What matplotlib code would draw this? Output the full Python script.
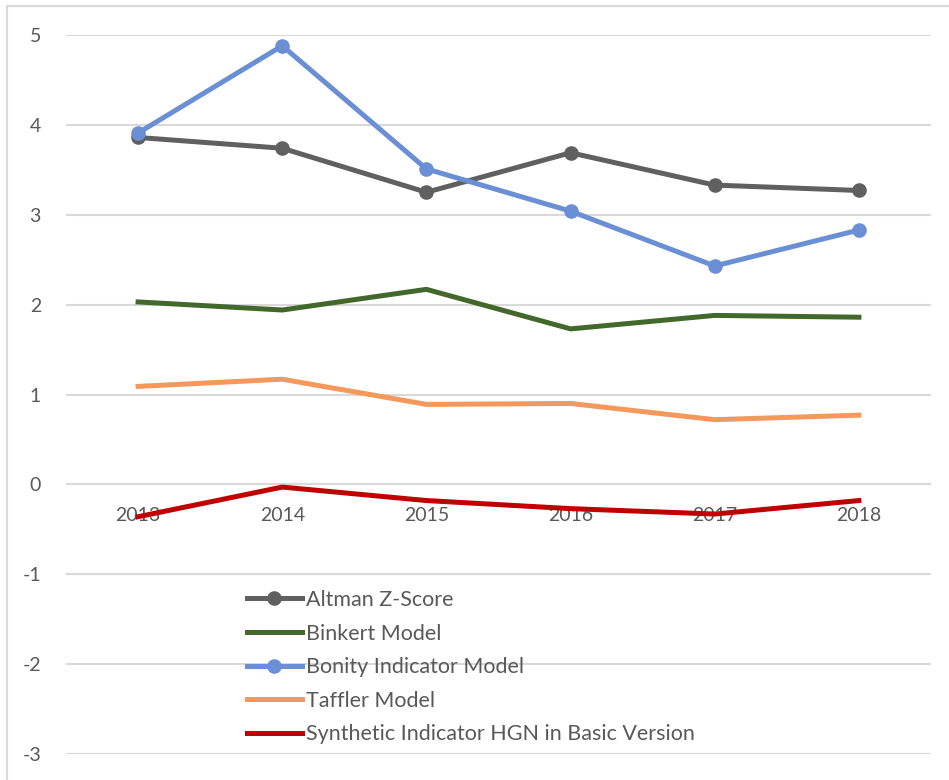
import numpy as np
import matplotlib.pyplot as plt
from matplotlib.patches import Rectangle

plt.rcParams['font.family'] = ['Lato', 'DejaVu Sans']
plt.rcParams['axes.unicode_minus'] = False

years = ['2013', '2014', '2015', '2016', '2017', '2018']
altman = [3.86, 3.74, 3.25, 3.69, 3.33, 3.27]
binkert = [2.03, 1.94, 2.17, 1.73, 1.88, 1.86]
bonity = [3.91, 4.88, 3.51, 3.04, 2.43, 2.83]
taffler = [1.09, 1.17, 0.89, 0.90, 0.72, 0.77]
synthetic = [-0.36, -0.03, -0.18, -0.27, -0.33, -0.18]

W, H = 949, 780
fig = plt.figure(figsize=(W / 100, H / 100), dpi=100)
ax = fig.add_axes([66 / W, (H - 754) / H, (931 - 66) / W, (754 - 35) / H])

# chart border (only left/top visible in the crop)
fig.patches.append(Rectangle((6.5 / W, -0.1), 1.2, (H - 6.5) / H + 0.1,
                             transform=fig.transFigure, fill=False,
                             edgecolor='#D9D9D9', linewidth=1.5))

x = np.arange(len(years))
lw = 3.6
ax.plot(x, altman, color='#606060', lw=lw, marker='o', ms=9.5, label='Altman Z-Score', zorder=3)
ax.plot(x, binkert, color='#43682B', lw=lw, label='Binkert Model', zorder=3)
ax.plot(x, bonity, color='#6A8FD4', lw=lw, marker='o', ms=9.5, label='Bonity Indicator Model', zorder=4)
ax.plot(x, taffler, color='#F4995B', lw=lw, label='Taffler Model', zorder=3)
ax.plot(x, synthetic, color='#C00000', lw=lw, label='Synthetic Indicator HGN in Basic Version', zorder=3)

ax.set_xlim(-0.5, len(years) - 0.5)
ax.set_ylim(-3, 5)
ax.set_yticks(range(-3, 6))
ax.yaxis.grid(True, color='#D9D9D9', lw=1.5)
ax.set_axisbelow(True)
for s in ['top', 'right', 'left']:
    ax.spines[s].set_visible(False)
ax.spines['bottom'].set_position(('data', 0))
ax.spines['bottom'].set_visible(False)
ax.set_xticks(x)
ax.set_xticklabels(years)
ax.tick_params(axis='x', length=0, pad=16, labelsize=14, labelcolor='#595959')
ax.tick_params(axis='y', length=0, pad=18, labelsize=14, labelcolor='#595959')

leg = ax.legend(loc='upper left', bbox_to_anchor=(247 / W, (H - 590) / H),
                bbox_transform=fig.transFigure, frameon=False, fontsize=15.5,
                handlelength=2.55, handletextpad=0.2, labelspacing=0.63,
                borderpad=0, borderaxespad=0)
for t in leg.get_texts():
    t.set_color('#595959')

fig.savefig('out.png', dpi=100)
